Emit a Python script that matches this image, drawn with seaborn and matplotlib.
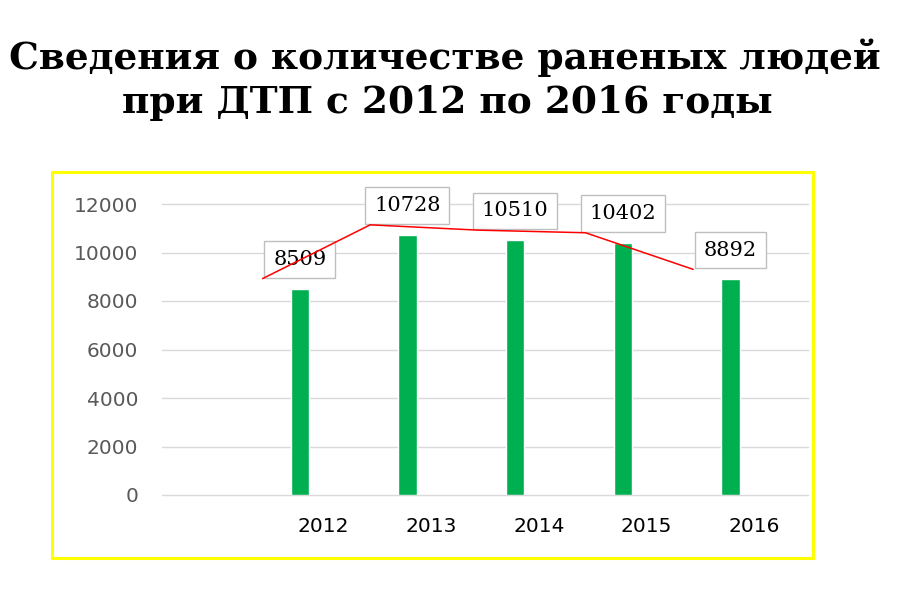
import numpy as np
import pandas as pd
import matplotlib
matplotlib.use("Agg")
import matplotlib.pyplot as plt
import matplotlib.transforms as mtransforms
from matplotlib.patches import Rectangle
import seaborn as sns

# ==========================================
# DATA
# ==========================================

years = ["2012", "2013", "2014", "2015", "2016"]
injured = [8509, 10728, 10510, 10402, 8892]
y_ticks = [0, 2000, 4000, 6000, 8000, 10000, 12000]

title_1 = "Сведения о количестве раненых людей"
title_2 = "при ДТП с 2012 по 2016 годы"

BAR_COLOR = "#00B050"
LINE_COLOR = "#FF0000"

df = pd.DataFrame({"Год": years, "Ранено": injured})

# ==========================================
# FIGURE
# ==========================================

sns.set_theme(style="white")
plt.rcParams["font.family"] = ["DejaVu Sans"]

fig = plt.figure(figsize=(9, 6), dpi=100)
ax = fig.add_axes([162 / 900, 1 - 495 / 600, 646 / 900, 291 / 600])

# yellow frame around the chart area
fig.patches.append(Rectangle(
    (52 / 900, 1 - 558 / 600), 761 / 900, 386 / 600,
    transform=fig.transFigure, fill=False,
    edgecolor="#FFFF00", linewidth=2.2
))

# empty first slot, like in the original chart
order = [""] + years

sns.barplot(
    data=df,
    x="Год",
    y="Ранено",
    order=order,
    color=BAR_COLOR,
    width=0.17,
    saturation=1,
    ax=ax
)

# bars sit a bit left of the category centre
shift = 0.22
for p in ax.patches:
    p.set_x(p.get_x() - shift)

positions = np.arange(1, len(years) + 1)

# red line (offset up-left like in the source)
offset = mtransforms.ScaledTranslation(-0.61, 0.10, fig.dpi_scale_trans)
ax.plot(
    positions, injured,
    color=LINE_COLOR, linewidth=1.1,
    transform=ax.transData + offset,
    clip_on=False, zorder=6
)

# value labels in boxes
for pos, val in zip(positions, injured):
    ax.annotate(
        str(val),
        xy=(pos - shift, val),
        xytext=(0, 21),
        textcoords="offset points",
        ha="center", va="center",
        fontsize=15, family="DejaVu Serif", color="black",
        bbox=dict(boxstyle="square,pad=0.42", fc="white",
                  ec="#BFBFBF", lw=1.0),
        annotation_clip=False, zorder=5
    )

# ==========================================
# AXES STYLE
# ==========================================

ax.set_ylim(0, 12000)
ax.set_xlim(-0.5, len(order) - 0.5)
ax.set_yticks(y_ticks)
ax.set_yticklabels([str(t) for t in y_ticks])
ax.grid(axis="y", color="#D9D9D9", linewidth=1.0)
for gl in ax.get_ygridlines():
    gl.set_clip_on(False)
ax.set_axisbelow(True)
for s in ax.spines.values():
    s.set_visible(False)

ax.set_xlabel("")
ax.set_ylabel("")
ax.tick_params(axis="y", length=0, pad=17, labelsize=14.5, labelcolor="#595959")
ax.tick_params(axis="x", length=0, pad=16, labelsize=14.5, labelcolor="black")

# ==========================================
# TITLE
# ==========================================

fig.text(0.494, 1 - 69 / 600, title_1, ha="center", va="baseline",
         fontsize=27, fontweight="bold", family="DejaVu Serif", color="black")
fig.text(0.497, 1 - 113 / 600, title_2, ha="center", va="baseline",
         fontsize=27, fontweight="bold", family="DejaVu Serif", color="black")

plt.savefig("out.png", dpi=100)
plt.close()
